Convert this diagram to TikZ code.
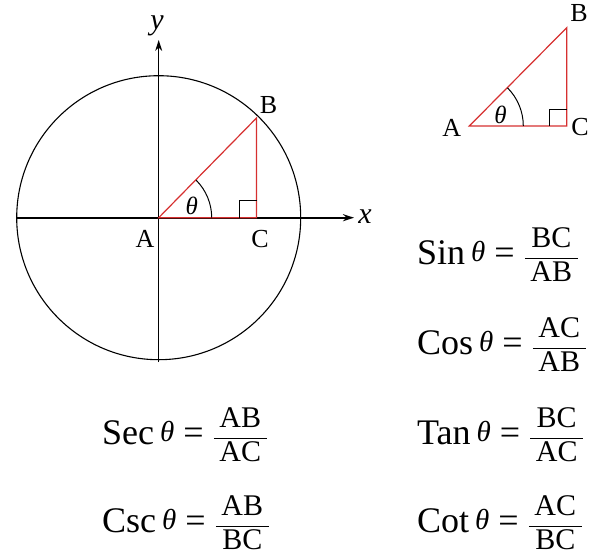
\documentclass[tikz,border=0pt]{standalone}
\usepackage{amsmath}
\usepackage{fontspec}
\setmainfont{Liberation Serif}
\usetikzlibrary{arrows.meta,positioning,calc}
\definecolor{trired}{RGB}{214,48,48}
\newcommand{\thetasym}{{\fontsize{25}{25}\selectfont\itshape θ}}
\newcommand{\eqtheta}{\raisebox{3pt}{\fontsize{29}{29}\selectfont\itshape θ}}
\newcommand{\trigfrac}[2]{$\dfrac{\kern5.5pt\text{\fontsize{30}{30}\selectfont#1}\kern5.5pt}{\kern5.5pt\text{\fontsize{30}{30}\selectfont#2}\kern5.5pt}$}

\begin{document}
\begin{tikzpicture}[x=1pt,y=1pt,
		axis/.style={-{Stealth[length=11pt,width=7pt]}},
		tri/.style={trired,line width=1.2pt},
		mark line/.style={line width=1pt},
		lbl/.style={inner sep=0pt,font=\fontsize{26}{26}\selectfont},
		axlbl/.style={inner sep=0pt,font=\fontsize{30}{30}\selectfont\itshape},
		eqn/.style={inner sep=0pt,anchor=west,font=\fontsize{36}{40}\selectfont}]
		
		\useasboundingbox (0,0) rectangle (599,-557);
		
		\coordinate (A) at (158.7,-217.7);
		\coordinate (B) at (256.5,-118);
		\coordinate (C) at (256.5,-217.7);
		\coordinate (xl) at (17,-217.7);
		\coordinate (xr) at (354,-217.7);
		\coordinate (yb) at (158.7,-362);
		\coordinate (yt) at (158.7,-40);
		
		\draw[line width=1.1pt] (A) circle[radius=142];
		\draw[line width=2.2pt,axis] (xl) -- (xr);
		\draw[line width=1.1pt,axis] (yb) -- (yt);
		
		\draw[tri] (A) -- (B) -- (C) -- cycle;
		\draw[mark line] ($(C)+(-17,0)$) |- ($(C)+(0,17)$);
		\draw[mark line] ($(A)+(53,0)$) arc[start angle=0,end angle=45,radius=53];
		
		\node[axlbl] (ylab) at (157,-26) {y};
		\node[axlbl] (xlab) at (365,-217) {x};
		\node[lbl] (labA) at (145,-238.5) {A};
		\node[lbl] (labB) at (268.5,-105) {B};
		\node[lbl] (labC) at (260,-239) {C};
		\node[lbl] (theta) at (191.7,-205.7) {\thetasym};
		
		\coordinate (sA) at (469.3,-126);
		\coordinate (sB) at (566.7,-27.7);
		\coordinate (sC) at (566.7,-126);
		
		\draw[tri] (sA) -- (sB) -- (sC) -- cycle;
		\draw[mark line] ($(sC)+(-17,0)$) |- ($(sC)+(0,17)$);
		\draw[mark line] ($(sA)+(54,0)$) arc[start angle=0,end angle=45,radius=54];
		
		\node[lbl] (slabA) at (451.7,-127.5) {A};
		\node[lbl] (slabB) at (579,-13) {B};
		\node[lbl] (slabC) at (580,-127.5) {C};
		\node[lbl] (stheta) at (500.5,-114.5) {\thetasym};
		
		\node[eqn] (sin) at (417,-255) {Sin\,\eqtheta\ = \trigfrac{BC}{AB}};
		\node[eqn] (cos) at (417,-345) {Cos\,\eqtheta\ = \trigfrac{AC}{AB}};
		\node[eqn] (tan) at (417,-435) {Tan\,\eqtheta\ = \trigfrac{BC}{AC}};
		\node[eqn] (cot) at (417,-523) {Cot\,\eqtheta\ = \trigfrac{AC}{BC}};
		\node[eqn] (sec) at (102,-435) {Sec\,\eqtheta\ = \trigfrac{AB}{AC}};
		\node[eqn] (csc) at (102,-523) {Csc\,\eqtheta\ = \trigfrac{AB}{BC}};
		
	\end{tikzpicture}
\end{document}
